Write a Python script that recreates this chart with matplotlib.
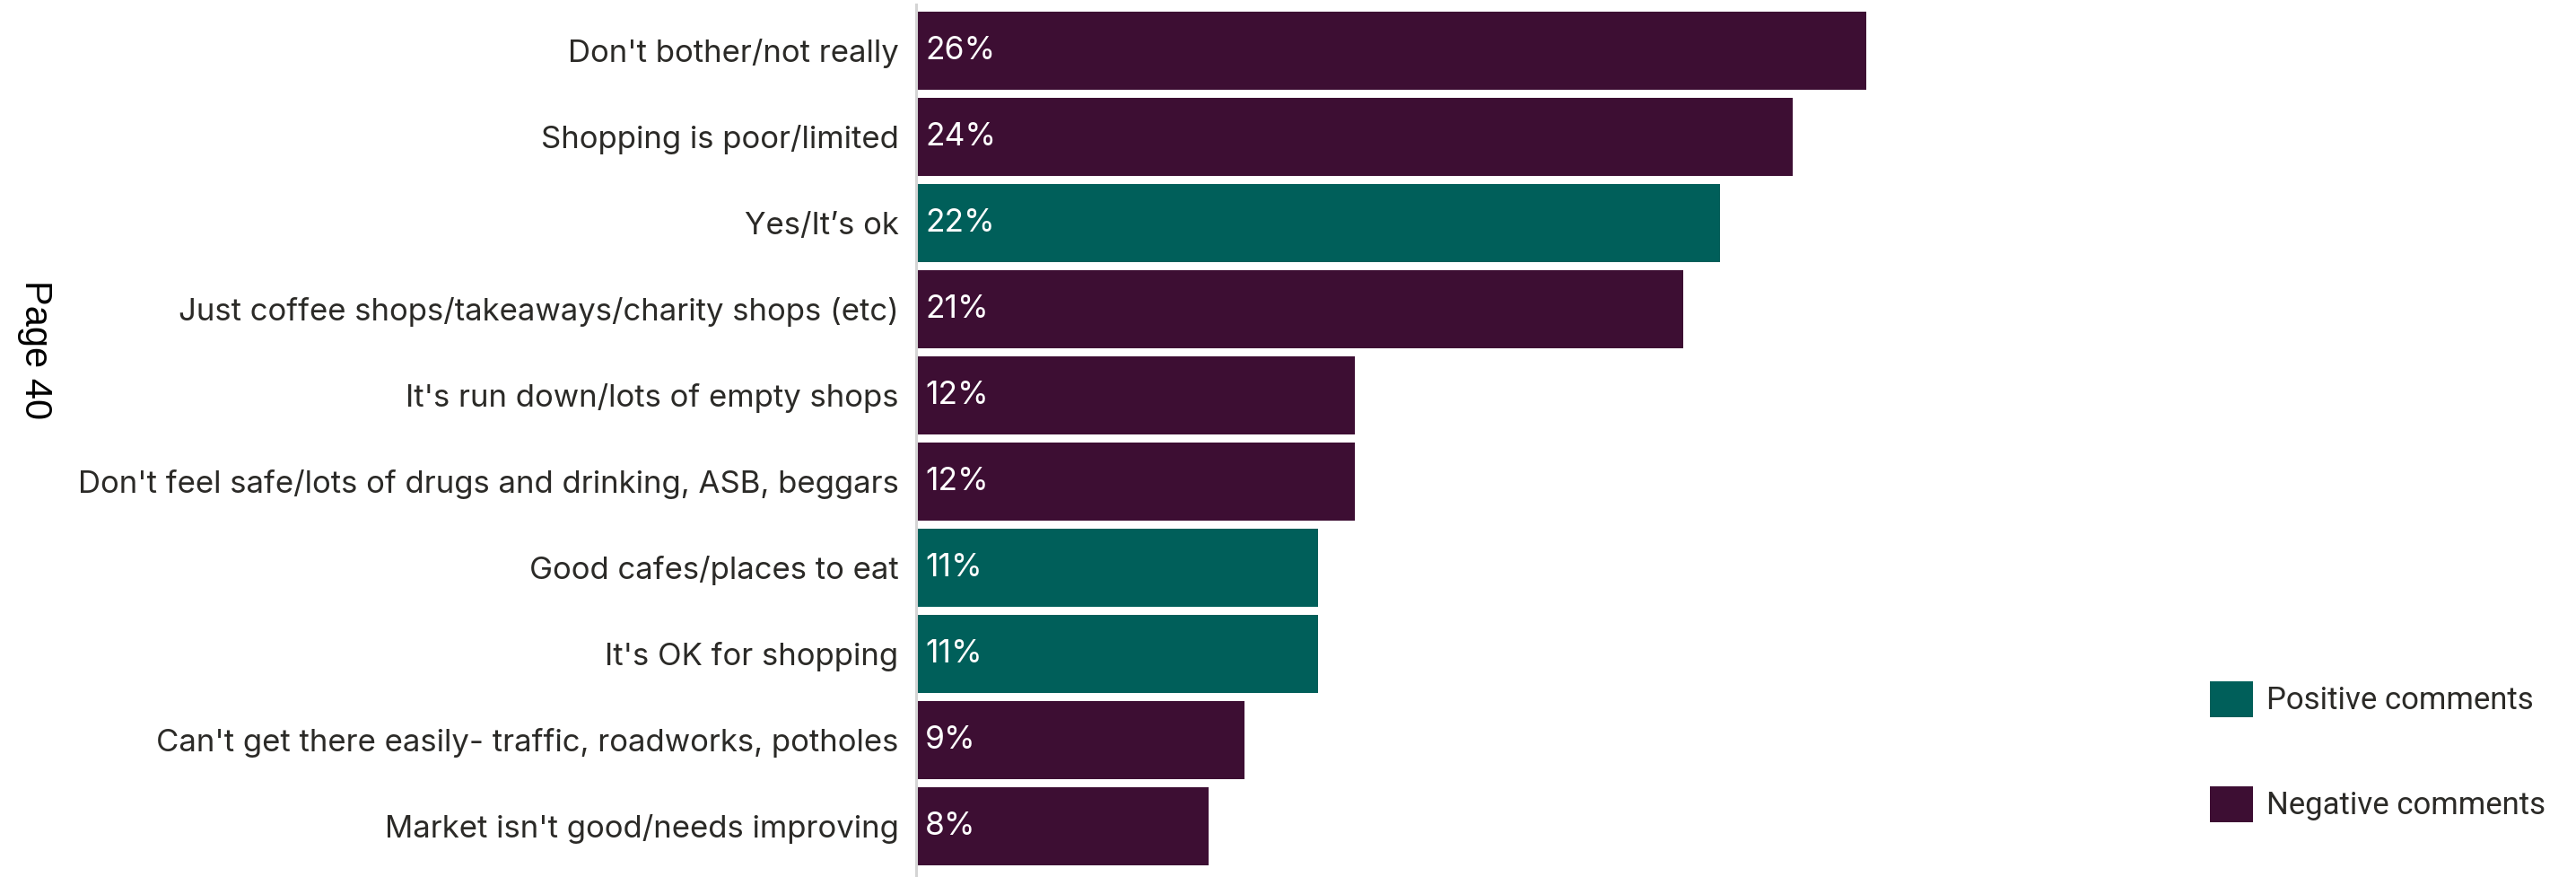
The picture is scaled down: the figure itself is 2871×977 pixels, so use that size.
import matplotlib
matplotlib.use("Agg")
import matplotlib.pyplot as plt
from matplotlib.patches import Patch

categories = [
    "Don't bother/not really",
    "Shopping is poor/limited",
    "Yes/It\u2019s ok",
    "Just coffee shops/takeaways/charity shops (etc)",
    "It's run down/lots of empty shops",
    "Don't feel safe/lots of drugs and drinking, ASB, beggars",
    "Good cafes/places to eat",
    "It's OK for shopping",
    "Can't get there easily- traffic, roadworks, potholes",
    "Market isn't good/needs improving",
]
values = [26, 24, 22, 21, 12, 12, 11, 11, 9, 8]
sentiment = ["neg", "neg", "pos", "neg", "neg", "neg", "pos", "pos", "neg", "neg"]

POS = "#005F5A"
NEG = "#3D0E33"
TEXT = "#2B2A27"
FONT = ["Inter", "DejaVu Sans"]

W, H = 2871, 977
DPI = 100
fig = plt.figure(figsize=(W / DPI, H / DPI), dpi=DPI)

px_per_pct = 40.72
xmax = 30
left_px = 1021
top_px = 5
ax = fig.add_axes([left_px / W, 0, xmax * px_per_pct / W, (H - top_px) / H])

colors = [POS if s == "pos" else NEG for s in sentiment]
ypos = list(range(len(categories)))
ax.barh(ypos, values, height=0.9, color=colors, zorder=2)
ax.set_xlim(0, xmax)
ax.set_ylim(9.59, -0.535)

ax.set_yticks(ypos)
ax.set_yticklabels(categories, fontsize=25.0, color=TEXT, family=FONT)
ax.tick_params(axis="y", length=0, pad=14)
ax.set_xticks([])
for s in ["top", "right", "bottom"]:
    ax.spines[s].set_visible(False)
ax.spines["left"].set_color("#D4D4D4")
ax.spines["left"].set_linewidth(2.2)
ax.spines["left"].set_zorder(3)

for y, v in zip(ypos, values):
    ax.annotate(f"{v}%", xy=(0, y), xytext=(10, 0), textcoords="offset pixels",
                ha="left", va="center", color="white", fontsize=25.5,
                family=FONT, zorder=4)

handles = [Patch(facecolor=POS, label="Positive comments"),
           Patch(facecolor=NEG, label="Negative comments")]
fig.legend(handles=handles, loc="upper left",
           bbox_to_anchor=(2463 / W, 1 - 759 / H), bbox_transform=fig.transFigure,
           frameon=False, borderpad=0, borderaxespad=0,
           prop={"family": "Roboto", "size": 25},
           labelcolor=TEXT, handlelength=1.38, handleheight=1.38,
           handletextpad=0.42, labelspacing=2.23)

fig.text(39 / W, 1 - 390 / H, "Page 40", rotation=270, ha="center", va="center",
         fontsize=30, family="Liberation Sans", color="black")

fig.savefig("out.png", dpi=DPI)
